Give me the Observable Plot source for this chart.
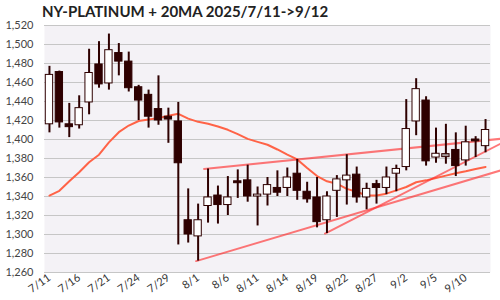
<!DOCTYPE html>
<html>
<head>
<meta charset="utf-8">
<script src="https://cdn.jsdelivr.net/npm/d3@7"></script>
<script src="https://cdn.jsdelivr.net/npm/@observablehq/plot@0.6"></script>
<style>
  html, body { margin: 0; padding: 0; background: #fff; }
  #title { font-family: Lato, "Open Sans", sans-serif; font-weight: bold; font-size: 15px; color: #222;
           height: 14px; padding-top: 4px; padding-left: 42px; line-height: 1; white-space: nowrap; }
  svg { overflow: visible; }
</style>
</head>
<body>
<div id="title">NY-PLATINUM + 20MA 2025/7/11-&gt;9/12</div>
<div id="chart"></div>
<script>
const dates = ["7/11","7/14","7/15","7/16","7/17","7/18","7/21","7/22","7/23","7/24","7/25","7/28","7/29","7/30","7/31",
  "8/1","8/4","8/5","8/6","8/7","8/8","8/11","8/12","8/13","8/14","8/15","8/18","8/19","8/20","8/21","8/22",
  "8/25","8/26","8/27","8/28","8/29","9/2","9/3","9/4","9/5","9/8","9/9","9/10","9/11","9/12"];
const open  = [1416,1471,1416,1415,1439,1479,1459,1491,1482,1455,1447,1432,1424,1419,1315,
  1298,1330,1341,1331,1356,1357,1340,1342,1349,1349,1364,1345,1339,1315,1346,1357,
  1363,1339,1353,1349,1364,1371,1419,1441,1381,1383,1389,1378,1400,1393];
const high  = [1477,1472,1438,1446,1495,1503,1511,1501,1492,1457,1452,1467,1433,1439,1348,
  1332,1369,1351,1361,1368,1373,1350,1360,1367,1370,1379,1355,1360,1345,1362,1384,
  1371,1354,1357,1371,1373,1442,1464,1445,1412,1416,1407,1414,1403,1421];
const low   = [1407,1412,1402,1411,1426,1454,1452,1467,1450,1420,1412,1415,1396,1289,1291,
  1272,1312,1311,1320,1338,1334,1309,1330,1340,1340,1336,1333,1307,1301,1318,1331,
  1333,1326,1332,1342,1345,1367,1404,1372,1375,1374,1361,1372,1381,1386];
const close = [1468,1418,1413,1433,1470,1458,1494,1482,1454,1441,1424,1420,1421,1375,1300,
  1315,1339,1331,1339,1354,1340,1342,1352,1344,1360,1346,1337,1313,1340,1358,1362,
  1339,1348,1349,1360,1369,1411,1453,1377,1385,1383,1372,1397,1398,1410];
const ma20  = [1341,1346,1356,1365.6,1376,1384,1397,1407.7,1414.7,1419.5,1421,1422.5,1425,1427,1422,
  1418.6,1416.5,1413.7,1410.2,1405.7,1400.7,1397.5,1394.5,1389.5,1384,1379,1370,1361.5,1356,1353.5,1348,
  1345,1341,1341,1343,1346.5,1350,1355,1357,1359.5,1362,1364.5,1366.5,1369,1371];
// trend lines: [start index, start price, end index, end price]
const trendLines = [
  [15.6, 1369, 45.5, 1400.7],
  [14.8, 1272, 45.5, 1367.4],
  [27.8, 1301, 45.5, 1395.5]
];
const yTicks = d3.range(1260, 1521, 20);
const xTickIdx = d3.range(0, 45, 3);

const candles = dates.map((d, i) => ({i, date: d, o: open[i], h: high[i], l: low[i], c: close[i]}));
const maData = ma20.map((v, i) => ({i, v}));
const tl = trendLines.flatMap((t, k) => [{k, x: t[0], y: t[1]}, {k, x: t[2], y: t[3]}]);
const bodyFill = d => d.c > d.o ? "#ffffff" : d.c < d.o ? "#2e0000" : "#a89a9a";
const dark = "#2e0000";
const hw = 0.37;

const chart = Plot.plot({
  width: 500,
  height: 282,
  marginTop: 7,
  marginBottom: 28,
  marginLeft: 44,
  marginRight: 10,
  style: {fontFamily: "Lato, 'Open Sans', sans-serif", fontSize: "11px", color: "#444", background: "transparent"},
  x: {type: "linear", domain: [-0.5, 44.5], axis: null},
  y: {domain: [1260, 1520], axis: null},
  marks: [
    Plot.frame({fill: "#f4f2f6", stroke: null}),
    Plot.gridY(yTicks, {stroke: "#c6c6c6", strokeOpacity: 1, strokeWidth: 1}),
    Plot.axisY(yTicks, {tickSize: 0, tickPadding: 11, tickFormat: d3.format(","), fill: "#444"}),
    Plot.axisX(xTickIdx, {tickSize: 0, tickPadding: 4, tickRotate: -35, tickFormat: i => dates[i], fill: "#333"}),
    Plot.line(maData, {x: "i", y: "v", stroke: "#ff6347", strokeWidth: 2, curve: "linear"}),
    Plot.line(tl, {x: "x", y: "y", z: "k", stroke: "#ff3030", strokeOpacity: 0.65, strokeWidth: 2}),
    Plot.ruleX(candles, {x: "i", y1: "l", y2: "h", stroke: dark, strokeWidth: 2}),
    Plot.rect(candles.filter(d => d.o !== d.c), {x1: d => d.i - hw, x2: d => d.i + hw, y1: "o", y2: "c",
      fill: bodyFill, stroke: dark, strokeWidth: 1}),
    Plot.rect(candles.filter(d => d.o === d.c), {x1: d => d.i - hw, x2: d => d.i + hw, y1: "o", y2: "c",
      fill: bodyFill, stroke: dark, strokeWidth: 1, insetTop: -1.5, insetBottom: -1.5})
  ]
});
document.getElementById("chart").appendChild(chart);
</script>
</body>
</html>
